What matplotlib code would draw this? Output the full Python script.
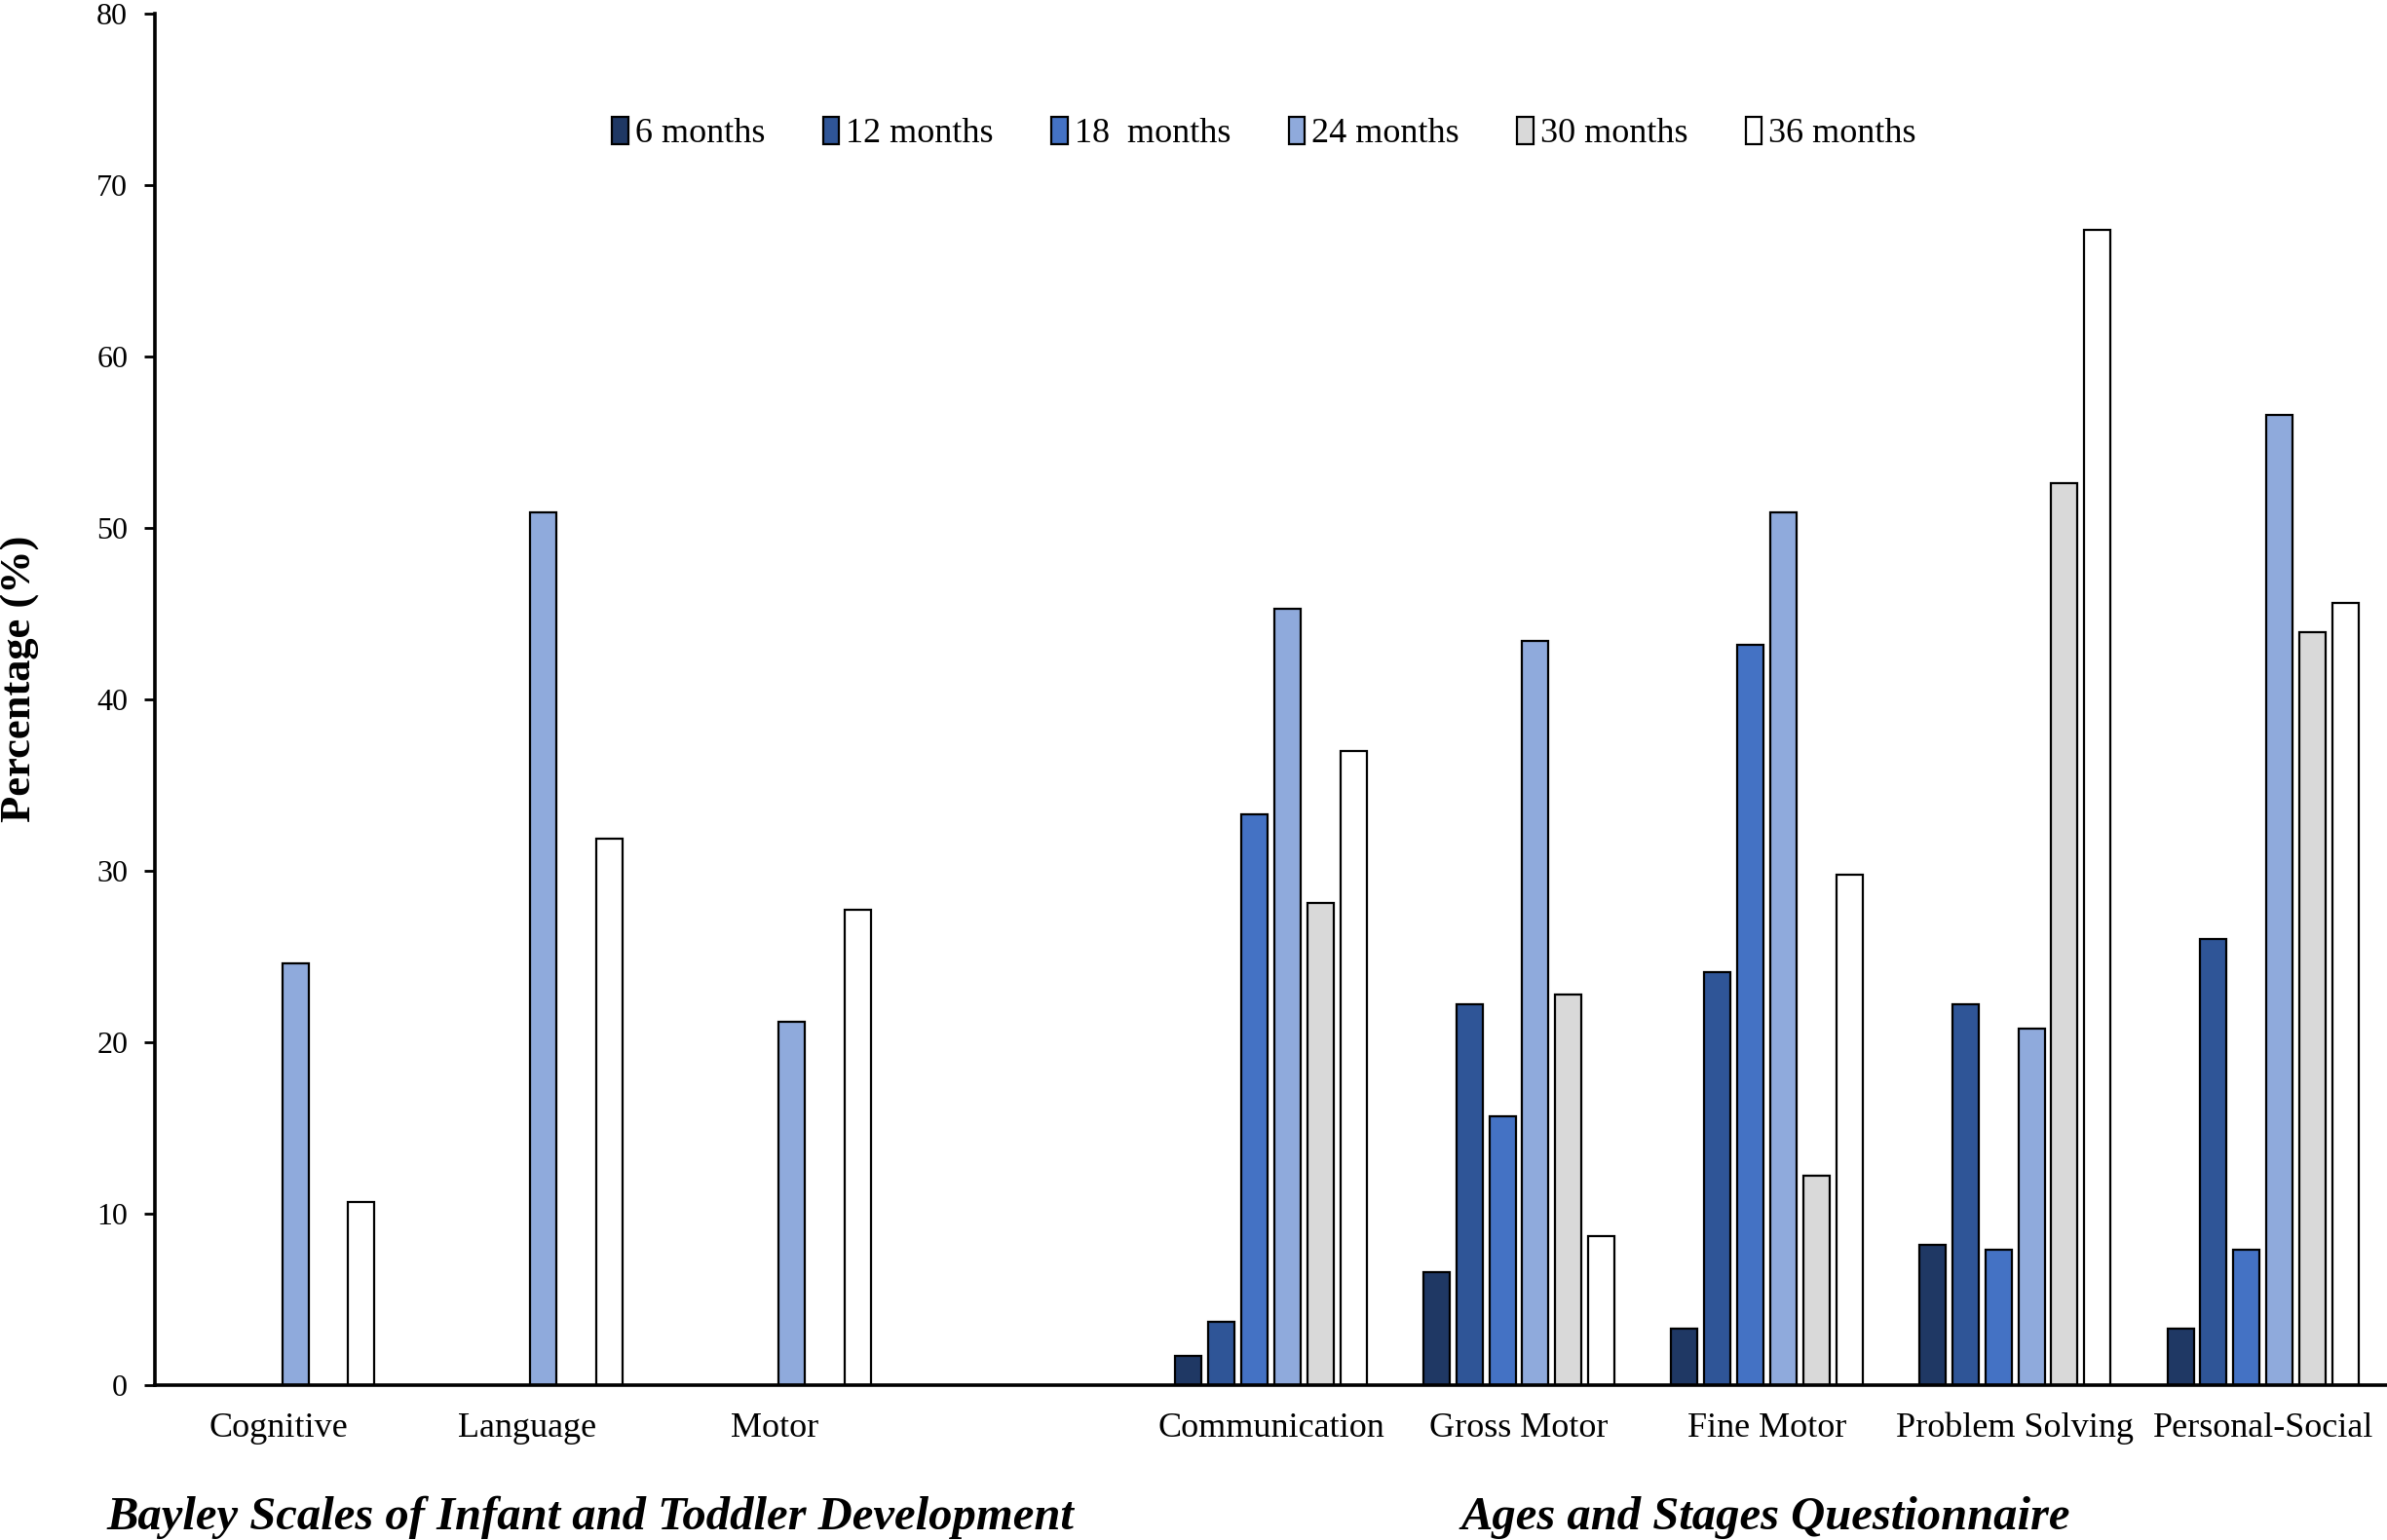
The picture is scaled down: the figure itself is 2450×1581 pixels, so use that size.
import numpy as np
import matplotlib.pyplot as plt

plt.rcParams['font.family'] = ['Liberation Serif', 'DejaVu Serif']

# Datos
categorias = ['Cognitive', 'Language', 'Motor', '',
              'Communication', 'Gross Motor', 'Fine Motor',
              'Problem Solving', 'Personal-Social']
series = ['6 months', '12 months', '18  months', '24 months', '30 months', '36 months']
nan = np.nan
m6 = [nan, nan, nan, nan, 1.7, 6.6, 3.3, 8.2, 3.3]
m12 = [nan, nan, nan, nan, 3.7, 22.2, 24.1, 22.2, 26.0]
m18 = [nan, nan, nan, nan, 33.3, 15.7, 43.2, 7.9, 7.9]
m24 = [24.6, 50.9, 21.2, nan, 45.3, 43.4, 50.9, 20.8, 56.6]
m30 = [nan, nan, nan, nan, 28.1, 22.8, 12.2, 52.6, 43.9]
m36 = [10.7, 31.9, 27.7, nan, 37.0, 8.7, 29.8, 67.4, 45.6]
valores = [m6, m12, m18, m24, m30, m36]
colores = ['#1F3864', '#2F5597', '#4472C4', '#8FAADC', '#D9D9D9', '#FFFFFF']

fig = plt.figure(figsize=(24.5, 15.81), dpi=100)
ax = fig.add_axes([0.0649, 0.1006, 0.9351, 0.8905])

x = np.arange(len(categorias))
paso = 0.133
ancho = 0.106
for i, (vals, col, nom) in enumerate(zip(valores, colores, series)):
    ax.bar(x + (i - 2.5) * paso, vals, width=ancho, color=col,
           edgecolor='black', linewidth=1.6, label=nom, zorder=2)

ax.set_xlim(-0.5, len(categorias) - 0.5)
ax.set_ylim(0, 80)
ax.set_yticks(range(0, 81, 10))
ax.set_xticks(x)
ax.set_xticklabels(categorias, fontsize=26)
ax.tick_params(axis='x', length=0, pad=20)
ax.tick_params(axis='y', direction='out', length=8, width=2, pad=12, labelsize=23)

for lado in ['top', 'right']:
    ax.spines[lado].set_visible(False)
ax.spines['left'].set_linewidth(2.6)
ax.spines['bottom'].set_linewidth(2.6)

ax.set_ylabel('Percentage (%)', fontsize=32, fontweight='bold')
ax.yaxis.set_label_coords(-0.0515, 0.515)

leg = ax.legend(ncol=6, loc='center', bbox_to_anchor=(0.497, 0.9125),
                frameon=False, fontsize=26, handlelength=0.45, handleheight=0.8,
                handletextpad=0.2, columnspacing=1.65)

fig.text(606 / 2450, 1 - 1558 / 1581, 'Bayley Scales of Infant and Toddler Development',
         ha='center', va='center', fontsize=35, fontweight='bold', style='italic')
fig.text(1812 / 2450, 1 - 1558 / 1581, 'Ages and Stages Questionnaire',
         ha='center', va='center', fontsize=35, fontweight='bold', style='italic')

fig.savefig('out.png', dpi=100, facecolor='white')
